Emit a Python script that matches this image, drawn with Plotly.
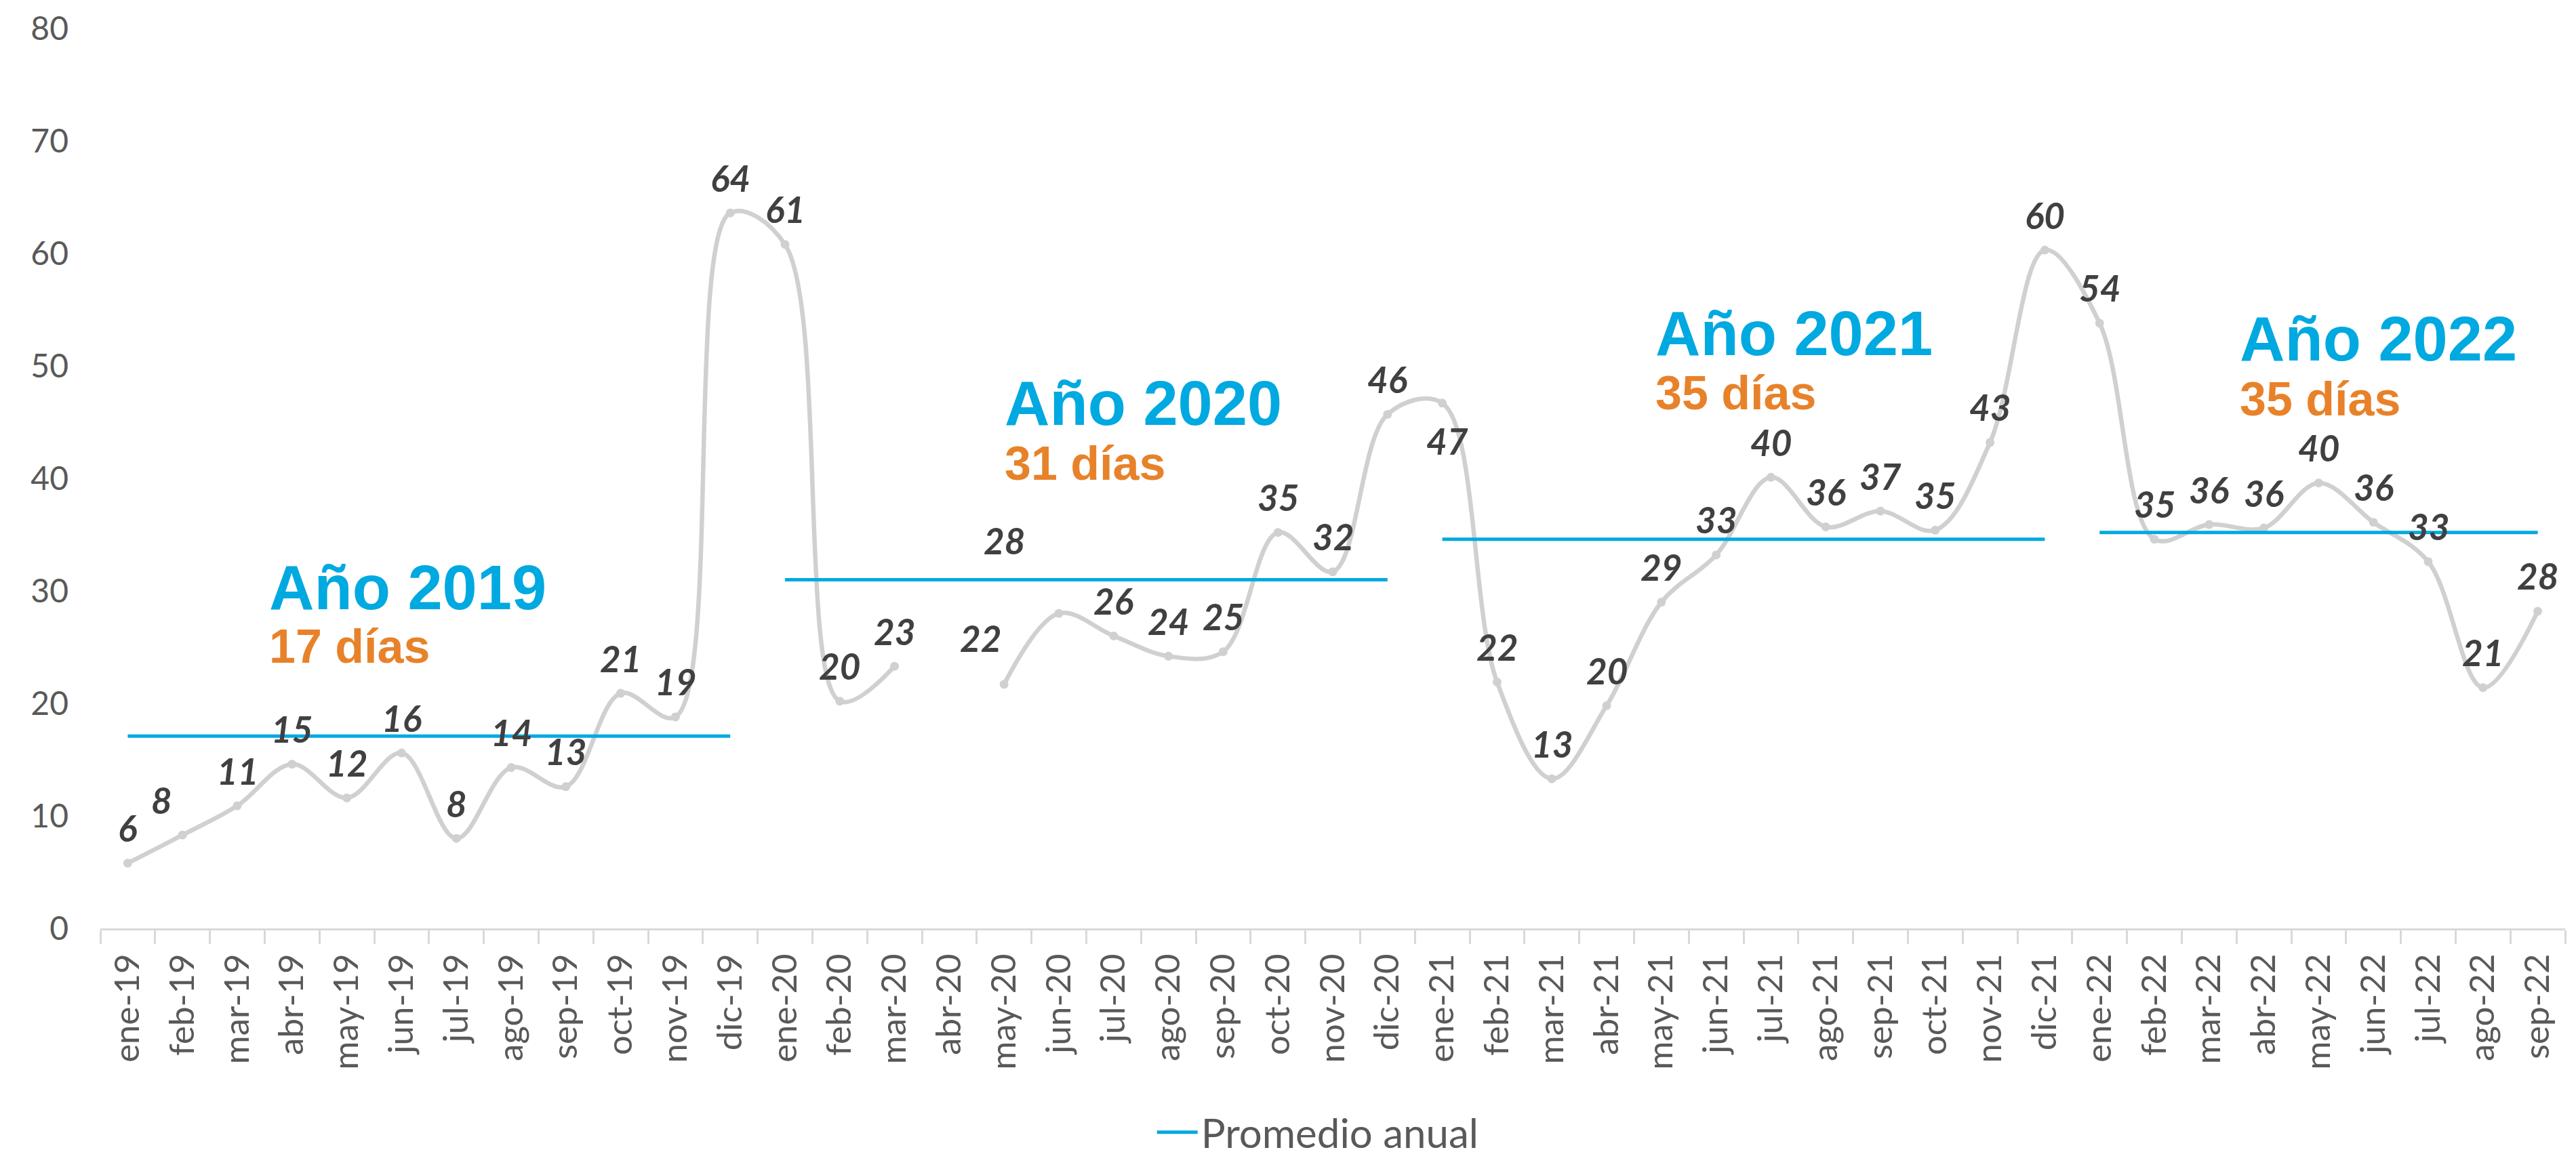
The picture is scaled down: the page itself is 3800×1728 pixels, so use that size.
import plotly.graph_objects as go

# ---- data ----
months = [
    "ene-19", "feb-19", "mar-19", "abr-19", "may-19", "jun-19", "jul-19", "ago-19", "sep-19", "oct-19", "nov-19", "dic-19",
    "ene-20", "feb-20", "mar-20", "abr-20", "may-20", "jun-20", "jul-20", "ago-20", "sep-20", "oct-20", "nov-20", "dic-20",
    "ene-21", "feb-21", "mar-21", "abr-21", "may-21", "jun-21", "jul-21", "ago-21", "sep-21", "oct-21", "nov-21", "dic-21",
    "ene-22", "feb-22", "mar-22", "abr-22", "may-22", "jun-22", "jul-22", "ago-22", "sep-22",
]
v2019 = [5.8, 8.3, 10.9, 14.6, 11.6, 15.6, 8.0, 14.3, 12.6, 20.9, 18.8, 63.6]
v2020 = [60.8, 20.2, 23.3, None, 21.7, 28.0, 26.0, 24.2, 24.6, 35.2, 31.7, 45.7]
v2021 = [46.7, 21.9, 13.3, 19.8, 29.0, 33.2, 40.1, 35.7, 37.1, 35.4, 43.2, 60.3]
v2022 = [53.8, 34.6, 35.9, 35.6, 39.6, 36.1, 32.6, 21.4, 28.2]
values = v2019 + v2020 + v2021 + v2022

year_titles = ["Año 2019", "Año 2020", "Año 2021", "Año 2022"]
year_days = ["17 días", "31 días", "35 días", "35 días"]
year_avg = [17.1, 31.0, 34.6, 35.2]
year_counts = [len(v2019), len(v2020), len(v2021), len(v2022)]

# ---- styles / layout constants ----
GREY = "#D0D0D0"
BLUE = "#00A9E0"
ORANGE = "#E8822A"
LABEL = "#404040"
TICK = "#595959"
FONT = "Lato, 'Open Sans', sans-serif"
TITLE_FONT = "'Liberation Sans', Arial, sans-serif"

# label offsets in px (default: centered above point)
label_default = (0, 52)
label_offsets = {"feb-19": (-31, 52), "may-20": (-35, 68), "jun-20": (-81, 108), "ene-21": (7, -56)}

# annotation positions (paper coords)
title_pos = [(0.0679, 0.3787), (0.3663, 0.5835), (0.6304, 0.6614), (0.8674, 0.6548)]
days_pos = [(0.0679, 0.3132), (0.3663, 0.5169), (0.6304, 0.5949), (0.8674, 0.5882)]

fig = go.Figure()

fig.add_trace(go.Scatter(
    x=months, y=values, mode="lines+markers",
    line=dict(color=GREY, width=6.5, shape="spline", smoothing=1),
    marker=dict(size=13, color=GREY),
    connectgaps=False, showlegend=False, hoverinfo="skip",
))

start = 0
for i, n in enumerate(year_counts):
    seg = months[start:start + n]
    fig.add_trace(go.Scatter(
        x=seg, y=[year_avg[i]] * len(seg), mode="lines",
        line=dict(color=BLUE, width=5),
        name="Promedio anual", legendgroup="avg", showlegend=(i == 0),
    ))
    start += n

for m, v in zip(months, values):
    if v is None:
        continue
    dx, dy = label_offsets.get(m, label_default)
    fig.add_annotation(
        x=m, y=v, xref="x", yref="y", text=f"{v:.0f}", showarrow=False,
        xshift=dx, yshift=dy, xanchor="center", yanchor="middle",
        font=dict(family=FONT, size=53, color=LABEL, weight="bold", style="italic"),
    )

for i in range(4):
    tx, ty = title_pos[i]
    fig.add_annotation(
        x=tx, y=ty, xref="paper", yref="paper", text=year_titles[i], showarrow=False,
        xanchor="left", yanchor="middle",
        font=dict(family=TITLE_FONT, size=92, color=BLUE, weight="bold"),
    )
    dx_, dy_ = days_pos[i]
    fig.add_annotation(
        x=dx_, y=dy_, xref="paper", yref="paper", text=year_days[i], showarrow=False,
        xanchor="left", yanchor="middle",
        font=dict(family=TITLE_FONT, size=70, color=ORANGE, weight="bold"),
    )

fig.update_layout(
    width=3800, height=1728,
    margin=dict(l=148, r=16, t=35, b=333),
    paper_bgcolor="white", plot_bgcolor="white",
    showlegend=True,
    legend=dict(orientation="h", x=0.494, xanchor="center", y=-0.2265, yanchor="middle",
                itemwidth=60,
                font=dict(family=FONT, size=60, color=TICK)),
    xaxis=dict(
        type="category", categoryorder="array", categoryarray=months,
        range=[-0.5, len(months) - 0.5], autorange=False,
        showline=True, linecolor="#D9D9D9", linewidth=3,
        ticks="outside", ticklen=20, tickwidth=3, tickcolor="#D9D9D9", tickson="boundaries",
        tickangle=-90, tickfont=dict(family=FONT, size=51, color=TICK),
        ticklabelstandoff=14, showgrid=False, zeroline=False,
    ),
    yaxis=dict(
        range=[0, 80], autorange=False, tickvals=[0, 10, 20, 30, 40, 50, 60, 70, 80],
        showgrid=False, zeroline=False, showline=False,
        tickfont=dict(family=FONT, size=48, color=TICK), ticklabelstandoff=46,
    ),
)

fig.write_html("out.html", config={"displayModeBar": False},
               post_script="document.body.style.margin='0';")
